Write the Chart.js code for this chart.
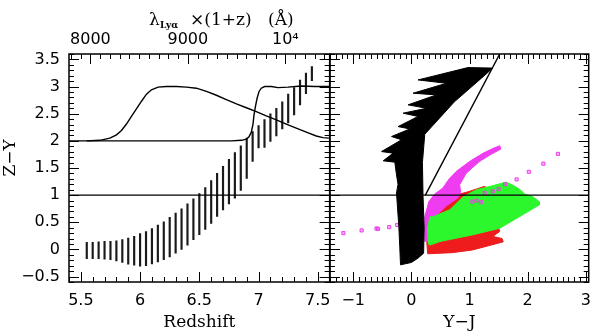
<!DOCTYPE html>
<html>
<head>
<meta charset="utf-8">
<script src="https://cdn.jsdelivr.net/npm/chart.js@4/dist/chart.umd.min.js"></script>
<style>
  html, body { margin: 0; padding: 0; background: #fff; }
  #wrap { position: relative; width: 600px; height: 333px; }
  #left { position: absolute; left: 0; top: 0; }
  #right { position: absolute; left: 320px; top: 0; }
</style>
</head>
<body>
<div id="wrap">
  <canvas id="left" width="340" height="333"></canvas>
  <canvas id="right" width="280" height="333"></canvas>
</div>
<script>
// ====== Datos ======
const LYA = 1215.67;

// panel izquierdo: Z-Y vs redshift
const Z_BARS = [5.55, 5.60, 5.65, 5.70, 5.75, 5.80, 5.85, 5.90, 5.95, 6.00, 6.05, 6.10, 6.15, 6.20, 6.25,
  6.30, 6.35, 6.40, 6.45, 6.50, 6.55, 6.60, 6.65, 6.70, 6.75, 6.80, 6.85, 6.90, 6.95, 7.00, 7.05, 7.10,
  7.15, 7.20, 7.25, 7.30, 7.35, 7.40, 7.45];
const BAR_LOW = [-0.17, -0.17, -0.17, -0.18, -0.19, -0.21, -0.24, -0.27, -0.29, -0.31, -0.30, -0.265, -0.23,
  -0.19, -0.14, -0.07, 0.00, 0.08, 0.18, 0.27, 0.37, 0.48, 0.61, 0.73, 0.84, 0.945, 1.085, 1.31, 1.62, 1.87,
  1.88, 1.99, 2.09, 2.22, 2.33, 2.48, 2.66, 2.87, 3.11];
const BAR_HIGH = [0.13, 0.13, 0.14, 0.15, 0.15, 0.16, 0.18, 0.21, 0.24, 0.29, 0.33, 0.385, 0.45, 0.51, 0.59,
  0.67, 0.75, 0.84, 0.93, 1.03, 1.14, 1.27, 1.40, 1.53, 1.66, 1.785, 1.91, 2.05, 2.17, 2.28, 2.39, 2.50,
  2.60, 2.72, 2.86, 2.98, 3.12, 3.25, 3.37];

const HUMP_Z = [5.548, 5.66, 5.745, 5.801, 5.843, 5.885, 5.927, 5.969, 6.012, 6.054, 6.096, 6.152, 6.222,
  6.307, 6.391, 6.475, 6.56, 6.644, 6.728, 6.813, 6.897, 6.981, 7.065, 7.15, 7.234, 7.318, 7.403, 7.487,
  7.543, 7.594];
const HUMP_ZY = [2.0, 2.01, 2.05, 2.11, 2.19, 2.31, 2.45, 2.59, 2.73, 2.86, 2.94, 2.99, 3.0, 3.0, 2.99,
  2.97, 2.91, 2.84, 2.76, 2.68, 2.61, 2.54, 2.46, 2.385, 2.31, 2.235, 2.16, 2.09, 2.06, 2.05];

const STEP_Z = [5.4, 6.77, 6.855, 6.897, 6.919, 6.939, 6.953, 6.961, 6.973, 6.987, 7.004, 7.023, 7.051,
  7.108, 7.164, 7.248, 7.361, 7.473, 7.6];
const STEP_ZY = [2.0, 2.0, 2.01, 2.03, 2.075, 2.16, 2.31, 2.47, 2.625, 2.78, 2.91, 2.97, 3.0, 3.0, 2.98,
  2.99, 3.01, 3.0, 3.0];

const CUT_ZY = 1;

// panel derecho: Z-Y vs Y-J
const BLACK_YJ = [1.40, 1.20, 0.74, 0.23, 0.19, 0.20, 0.22, 0.21, 0.115, 0.0, -0.187, -0.20, -0.216, -0.256,
  -0.23, -0.256, -0.285, -0.485, -0.314, -0.513, -0.17, -0.341, -0.027, -0.228, 0.115, -0.142, 0.259,
  -0.057, 0.43, 0.029, 0.602, 0.115, 0.973, 1.40];
const BLACK_ZY = [3.34, 3.15, 2.72, 2.12, 1.60, 1.00, 0.40, -0.07, -0.16, -0.24, -0.284, 0.05, 0.42, 1.04,
  1.2, 1.374, 1.607, 1.632, 1.773, 1.803, 2.02, 2.08, 2.22, 2.263, 2.45, 2.51, 2.60, 2.663, 2.847, 2.878,
  3.06, 3.123, 3.35, 3.34];

const RED_YJ = [0.27, 0.26, 0.28, 0.70, 1.05, 1.30, 1.58, 1.56, 1.40, 1.52, 1.50, 1.30, 1.32, 1.25, 1.00,
  0.70, 0.45, 0.32, 0.27];
const RED_ZY = [0.70, 0.20, -0.08, -0.06, -0.01, 0.06, 0.14, 0.20, 0.24, 0.33, 0.40, 0.60, 1.13, 1.16, 1.07,
  0.98, 0.86, 0.74, 0.70];

const GREEN_YJ = [0.29, 0.28, 0.32, 0.37, 0.66, 0.89, 1.12, 1.35, 1.63, 1.75, 1.86, 1.95, 2.09, 2.20, 2.20,
  1.52, 1.06, 0.49, 0.32, 0.29];
const GREEN_ZY = [0.10, 0.40, 0.60, 0.60, 0.73, 0.97, 1.10, 1.16, 1.24, 1.18, 1.11, 1.02, 0.97, 0.88, 0.82,
  0.39, 0.27, 0.145, 0.08, 0.10];

const MAG_YJ = [0.23, 0.23, 0.30, 0.40, 0.54, 0.65, 0.77, 1.00, 1.23, 1.40, 1.52, 1.54, 1.35, 1.17, 0.945,
  0.83, 0.85, 0.80, 0.60, 0.40, 0.30, 0.23];
const MAG_ZY = [0.15, 0.60, 0.88, 1.02, 1.13, 1.30, 1.435, 1.62, 1.77, 1.86, 1.91, 1.85, 1.74, 1.62, 1.405,
  1.19, 1.05, 0.95, 0.80, 0.60, 0.15, 0.15];

const MAG_PTS_YJ = [-1.17, -0.856, -0.60, -0.575, -0.382, -0.245, 1.05, 1.12, 1.20, 1.26, 1.40, 1.50, 1.61,
  1.81, 2.02, 2.27, 2.52];
const MAG_PTS_ZY = [0.30, 0.35, 0.385, 0.38, 0.41, 0.45, 0.88, 0.90, 0.87, 1.04, 1.07, 1.11, 1.20, 1.29,
  1.43, 1.58, 1.76];

const DIAG_YJ = [0.24, 1.52];
const DIAG_ZY = [1.0, 3.6];

// ejes
const Z_RANGE = [5.4, 7.6];
const ZY_RANGE = [-0.6, 3.6];
const YJ_RANGE = [-1.4, 3.05];
const TOP_TICK_VALUES = [8000, 9000, 10000];
const TOP_TICK_LABELS = ['8000', '9000', '10⁴'];

// ====== Utilidades ======
const TICK_FONT = { family: 'DejaVu Sans', size: 16 };
const TITLE_FONT = { family: 'DejaVu Serif', size: 17 };
const RED = '#ee1c1c';
const GREEN = '#2cf72c';
const MAGENTA = '#f03cf0';

const pts = (xs, ys) => xs.map((x, i) => ({ x, y: ys[i] }));
const fmt = (v) => String(Math.round(v * 10) / 10).replace('-', '\u2212');

function stepValues(min, max, step) {
  const out = [];
  for (let k = Math.ceil(min / step - 1e-9); k * step <= max + 1e-9; k++) out.push(k * step);
  return out;
}

// marco con marcas hacia adentro
const frameTicks = {
  id: 'frameTicks',
  afterDraw(chart, args, opts) {
    const { ctx, chartArea: a } = chart;
    ctx.save();
    ctx.strokeStyle = '#000';
    ctx.lineWidth = 1;
    ctx.beginPath();
    for (const s of opts.sides || []) {
      const sc = chart.scales[s.axis];
      for (const v of stepValues(sc.min, sc.max, s.minor)) {
        const r = v / s.major;
        const len = Math.abs(r - Math.round(r)) < 1e-6 ? 10 : 5;
        const p = Math.round(sc.getPixelForValue(v)) + 0.5;
        if (s.edge === 'bottom') { ctx.moveTo(p, a.bottom); ctx.lineTo(p, a.bottom - len); }
        if (s.edge === 'top') { ctx.moveTo(p, a.top); ctx.lineTo(p, a.top + len); }
        if (s.edge === 'left') { ctx.moveTo(a.left, p); ctx.lineTo(a.left + len, p); }
        if (s.edge === 'right') { ctx.moveTo(a.right, p); ctx.lineTo(a.right - len, p); }
      }
    }
    ctx.stroke();
    ctx.lineWidth = 1.5;
    ctx.strokeRect(a.left, a.top, a.right - a.left, a.bottom - a.top);
    ctx.restore();
  }
};

// titulo superior con subindice
const topTitle = {
  id: 'topTitle',
  afterDraw(chart) {
    const { ctx } = chart;
    ctx.save();
    ctx.fillStyle = '#000';
    ctx.textBaseline = 'alphabetic';
    ctx.font = '17px "DejaVu Serif"';
    ctx.fillText('λ', 149, 24.5);
    ctx.font = 'bold 9px "DejaVu Serif"';
    ctx.fillText('Lyα', 160, 28);
    ctx.font = '17px "DejaVu Serif"';
    ctx.fillText('×(1+z)', 190, 24.5);
    ctx.fillText('(Å)', 268, 24.5);
    ctx.restore();
  }
};

const hidden = { display: false, drawTicks: false, offset: false };

// ====== Panel izquierdo ======
new Chart(document.getElementById('left'), {
  type: 'bar',
  data: {
    datasets: [
      { type: 'line', data: pts(HUMP_Z, HUMP_ZY), borderColor: '#000', borderWidth: 1.4, pointRadius: 0 },
      { type: 'line', data: pts(STEP_Z, STEP_ZY), borderColor: '#000', borderWidth: 1.4, pointRadius: 0 },
      { type: 'line', data: pts(Z_RANGE, [CUT_ZY, CUT_ZY]), borderColor: '#000', borderWidth: 1.2, pointRadius: 0 },
      {
        type: 'bar',
        data: Z_BARS.map((z, i) => ({ x: z, y: [BAR_LOW[i], BAR_HIGH[i]] })),
        backgroundColor: '#1a1a1a',
        borderWidth: 0,
        barThickness: 1.5
      }
    ]
  },
  options: {
    responsive: false,
    animation: false,
    layout: { padding: { right: 10 } },
    plugins: {
      legend: { display: false },
      tooltip: { enabled: false },
      frameTicks: {
        sides: [
          { axis: 'x', edge: 'bottom', minor: 0.1, major: 0.5 },
          { axis: 'x2', edge: 'top', minor: 100, major: 1000 },
          { axis: 'y', edge: 'left', minor: 0.1, major: 0.5 },
          { axis: 'y', edge: 'right', minor: 0.1, major: 0.5 }
        ]
      }
    },
    scales: {
      x: {
        type: 'linear', position: 'bottom', min: Z_RANGE[0], max: Z_RANGE[1], offset: false,
        grid: hidden, border: { display: false },
        ticks: { stepSize: 0.5, includeBounds: false, padding: 9, font: TICK_FONT, color: '#000', maxRotation: 0, callback: fmt },
        title: { display: true, text: 'Redshift', font: TITLE_FONT, color: '#000', padding: { top: 0, bottom: 0 } },
        afterFit: (s) => { s.height = 51; }
      },
      x2: {
        type: 'linear', position: 'top', min: LYA * (1 + Z_RANGE[0]), max: LYA * (1 + Z_RANGE[1]), offset: false,
        grid: hidden, border: { display: false },
        afterBuildTicks: (s) => { s.ticks = TOP_TICK_VALUES.map(v => ({ value: v })); },
        ticks: { padding: 5, font: TICK_FONT, color: '#000', maxRotation: 0,
          callback: (v) => TOP_TICK_LABELS[TOP_TICK_VALUES.indexOf(v)] },
        afterFit: (s) => { s.height = 54; }
      },
      y: {
        type: 'linear', min: ZY_RANGE[0], max: ZY_RANGE[1],
        grid: hidden, border: { display: false },
        ticks: { stepSize: 0.5, includeBounds: false, padding: 9, font: TICK_FONT, color: '#000', callback: fmt },
        title: { display: true, text: '\u2003\u2009Z\u2212Y', font: TITLE_FONT, color: '#000', padding: { top: 0 } },
        afterFit: (s) => { s.width = 69; }
      }
    }
  },
  plugins: [frameTicks, topTitle]
});

// ====== Panel derecho ======
new Chart(document.getElementById('right'), {
  type: 'scatter',
  data: {
    datasets: [
      { type: 'line', data: pts(DIAG_YJ, DIAG_ZY), borderColor: '#000', borderWidth: 1.4, pointRadius: 0 },
      { type: 'line', data: pts(YJ_RANGE, [CUT_ZY, CUT_ZY]), borderColor: '#000', borderWidth: 1.2, pointRadius: 0 },
      { type: 'line', data: pts(BLACK_YJ, BLACK_ZY), borderColor: '#000', backgroundColor: '#000', borderWidth: 1, pointRadius: 0, fill: 'shape' },
      {
        type: 'scatter', data: pts(MAG_PTS_YJ, MAG_PTS_ZY), pointStyle: 'rect', pointRadius: 2.2,
        borderColor: MAGENTA, backgroundColor: 'rgba(240,60,240,0.35)', borderWidth: 1
      },
      { type: 'line', data: pts(GREEN_YJ, GREEN_ZY), borderColor: GREEN, backgroundColor: GREEN, borderWidth: 1, pointRadius: 0, fill: 'shape' },
      { type: 'line', data: pts(MAG_YJ, MAG_ZY), borderColor: MAGENTA, backgroundColor: MAGENTA, borderWidth: 1, pointRadius: 0, fill: 'shape' },
      { type: 'line', data: pts(RED_YJ, RED_ZY), borderColor: RED, backgroundColor: RED, borderWidth: 1, pointRadius: 0, fill: 'shape' }
    ]
  },
  options: {
    responsive: false,
    animation: false,
    layout: { padding: { left: 10, right: 10.5, top: 54 } },
    plugins: {
      legend: { display: false },
      tooltip: { enabled: false },
      frameTicks: {
        sides: [
          { axis: 'x', edge: 'bottom', minor: 0.1, major: 1 },
          { axis: 'x', edge: 'top', minor: 0.1, major: 1 },
          { axis: 'y', edge: 'left', minor: 0.1, major: 0.5 },
          { axis: 'y', edge: 'right', minor: 0.1, major: 0.5 }
        ]
      }
    },
    scales: {
      x: {
        type: 'linear', position: 'bottom', min: YJ_RANGE[0], max: YJ_RANGE[1],
        grid: hidden, border: { display: false },
        ticks: { stepSize: 1, includeBounds: false, padding: 9, font: TICK_FONT, color: '#000', maxRotation: 0, callback: fmt },
        title: { display: true, text: 'Y\u2212J', font: TITLE_FONT, color: '#000', padding: { top: 0, bottom: 0 } },
        afterFit: (s) => { s.height = 51; }
      },
      y: { type: 'linear', min: ZY_RANGE[0], max: ZY_RANGE[1], display: false }
    }
  },
  plugins: [frameTicks]
});
</script>
</body>
</html>
